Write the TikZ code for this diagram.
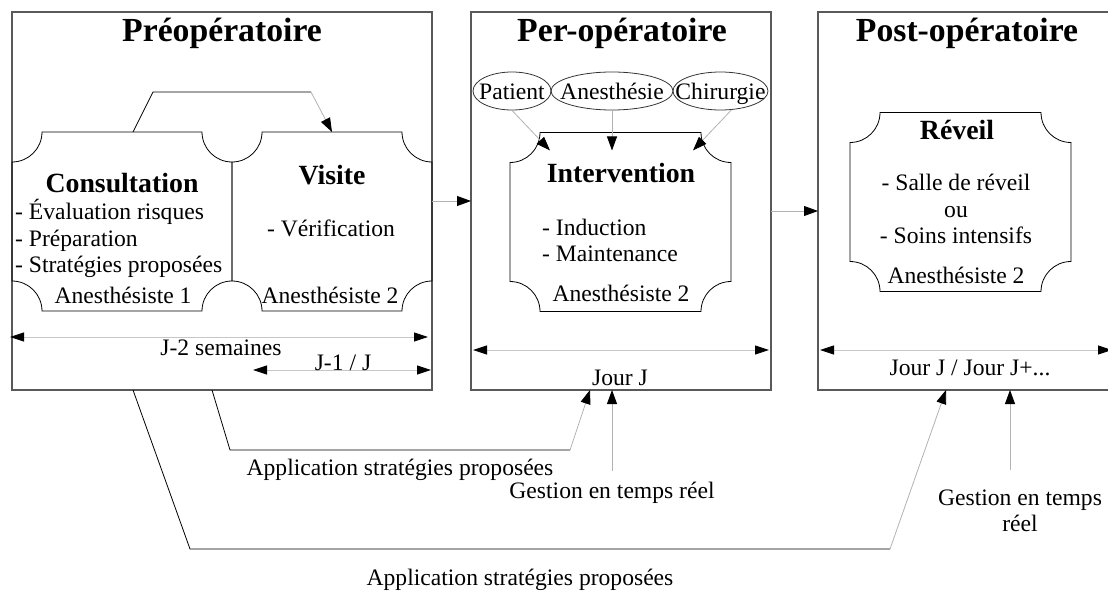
\documentclass[tikz,border=0pt]{standalone}
\usepackage{fontspec}
\setmainfont{Liberation Serif}
\usetikzlibrary{arrows.meta,shapes.geometric}
\tikzstyle{cadre}=[draw=black!65,line width=1.3pt,minimum height=378pt,inner sep=0pt,outer sep=0pt]
\tikzstyle{titre}=[font=\fontsize{33.7}{36}\selectfont\bfseries,inner sep=0pt]
\tikzstyle{soustitre}=[font=\fontsize{27.8}{30}\selectfont\bfseries,inner sep=0pt]
\tikzstyle{texte}=[font=\fontsize{23.6}{26.5}\selectfont,inner sep=0pt]
\tikzstyle{plaque}=[minimum height=179pt,inner sep=0pt,outer sep=0pt]
\tikzstyle{bulle}=[ellipse,draw=black!80,line width=0.8pt,minimum height=38pt,inner sep=0pt]
\tikzstyle{trait}=[draw=black,line width=0.8pt]
\tikzstyle{fleche}=[draw=black!30,line width=0.8pt,-{Triangle[length=14pt,width=10pt,color=black]}]
\tikzstyle{cote}=[draw=black!22,line width=0.8pt,{Triangle[length=14pt,width=9pt,color=black]}-{Triangle[length=14pt,width=9pt,color=black]}]

\begin{document}
\begin{tikzpicture}[x=1pt,y=-1pt]
    \useasboundingbox (0,0) rectangle (1108,591);
    % Les trois phases
    \node[cadre,minimum width=420pt] (pre) at (222,201) {};
    \node[cadre,minimum width=300pt] (per) at (621,201) {};
    \node[cadre,minimum width=302pt] (post) at (969,201) {};
    \foreach \pos/\name/\txt in {{(222,33)/tpre/Préopératoire}, {(622,33)/tper/Per-opératoire}, {(967,33)/tpost/Post-opératoire}}
        \node[titre] (\name) at \pos {\txt};

    % Les plaques (coins creux)
    \node[plaque,minimum width=220pt] (consult) at (122,221.5) {};
    \node[plaque,minimum width=200pt] (visite) at (332,221.5) {};
    \node[plaque,minimum width=221pt] (interv) at (620.5,222) {};
    \node[plaque,minimum width=221pt] (reveil) at (960.5,202) {};
    \foreach \n in {consult,visite,interv,reveil}
        \draw[trait] ([xshift=30pt]\n.north west) -- ([xshift=-30pt]\n.north east)
            arc[start angle=180,end angle=270,radius=30pt] -- ([yshift=30pt]\n.south east)
            arc[start angle=90,end angle=180,radius=30pt] -- ([xshift=30pt]\n.south west)
            arc[start angle=0,end angle=90,radius=30pt] -- ([yshift=-30pt]\n.north west)
            arc[start angle=270,end angle=360,radius=30pt] -- cycle;

    % Textes des plaques
    \node[soustitre] (tconsult) at (122,183) {Consultation};
    \node[texte,align=left,anchor=west] (lconsult) at (15,238.5) {- Évaluation risques\\- Préparation\\- Stratégies proposées};
    \node[texte] (aconsult) at (123,295) {Anesthésiste 1};
    \node[soustitre] (tvisite) at (332,175) {Visite};
    \node[texte] (lvisite) at (331,228) {- Vérification};
    \node[texte] (avisite) at (330,295) {Anesthésiste 2};
    \node[soustitre] (tinterv) at (621,173) {Intervention};
    \node[texte,align=left,anchor=west] (linterv) at (542,240.5) {- Induction\\- Maintenance};
    \node[texte] (ainterv) at (621,293) {Anesthésiste 2};
    \node[soustitre] (treveil) at (957,130) {Réveil};
    \node[texte,align=center] (lreveil) at (956,209) {- Salle de réveil\\ou\\- Soins intensifs};
    \node[texte] (areveil) at (956,275) {Anesthésiste 2};

    % Les facteurs de l'intervention
    \node[bulle,minimum width=78pt,label={[texte,yshift=-3pt]center:\strut Patient}] (patient) at (512,91) {};
    \node[bulle,minimum width=122pt,label={[texte,yshift=-3pt]center:\strut Anesthésie}] (anesth) at (612,91) {};
    \node[bulle,minimum width=95pt,label={[texte,yshift=-3pt]center:\strut Chirurgie}] (chir) at (720.5,91) {};
    \draw[fleche] (patient.south) -- ([shift={(40pt,-18pt)}]interv.north west);
    \draw[fleche] (anesth.south) -- ([yshift=-18pt]anesth.south |- interv.north);
    \draw[fleche] (chir.-60) -- ([shift={(-38pt,-18pt)}]interv.north east);

    % Enchainement
    \draw[trait] ([xshift=11pt]consult.north) -- ++(20,-40) -- ++(158,0) coordinate (cv);
    \draw[fleche] (cv) -- (visite.north);
    \draw[fleche] (pre.east) -- (per.west);
    \draw[fleche] ([yshift=-10pt]per.east) -- ([yshift=-10pt]post.west);

    % Durees
    \draw[cote] ([shift={(-2pt,53pt)}]pre.south west) -- ([shift={(-4pt,53pt)}]pre.south east);
    \draw[cote] ([shift={(-179pt,20pt)}]pre.south east) -- ([shift={(-1pt,20pt)}]pre.south east);
    \draw[cote] ([shift={(2pt,40pt)}]per.south west) -- ([shift={(-2pt,40pt)}]per.south east);
    \draw[cote] ([shift={(2pt,40pt)}]post.south west) -- ([shift={(-8pt,40pt)}]post.south east);
    \node[texte] (dpre) at (221,348) {J-2 semaines};
    \node[texte] (dj) at (343,363) {J-1 / J};
    \node[texte] (dper) at (620,378) {Jour J};
    \node[texte] (dpost) at (970,368) {Jour J / Jour J+...};

    % Liens du bas
    \node[texte] (app1) at (400,470) {Application stratégies proposées};
    \node[texte] (ges1) at (612,493) {Gestion en temps réel};
    \node[texte,align=center] (ges2) at (1020,511) {Gestion en temps\\réel};
    \node[texte] (app2) at (520,580) {Application stratégies proposées};
    \draw[trait] ([xshift=-10pt]pre.south) -- ++(18,60) -- ++(340,0) coordinate (b1);
    \draw[fleche] (b1) -- ([xshift=-31pt]per.south);
    \draw[fleche] ([yshift=11pt]ges1.north) -- (ges1.north |- per.south);
    \draw[trait] ([xshift=-89pt]pre.south) -- ++(57,159) -- ++(700,0) coordinate (b2);
    \draw[fleche] (b2) -- ([xshift=-23pt]post.south);
    \draw[fleche] ([shift={(41pt,-80pt)}]post.south) -- ([xshift=41pt]post.south);
\end{tikzpicture}
\end{document}
